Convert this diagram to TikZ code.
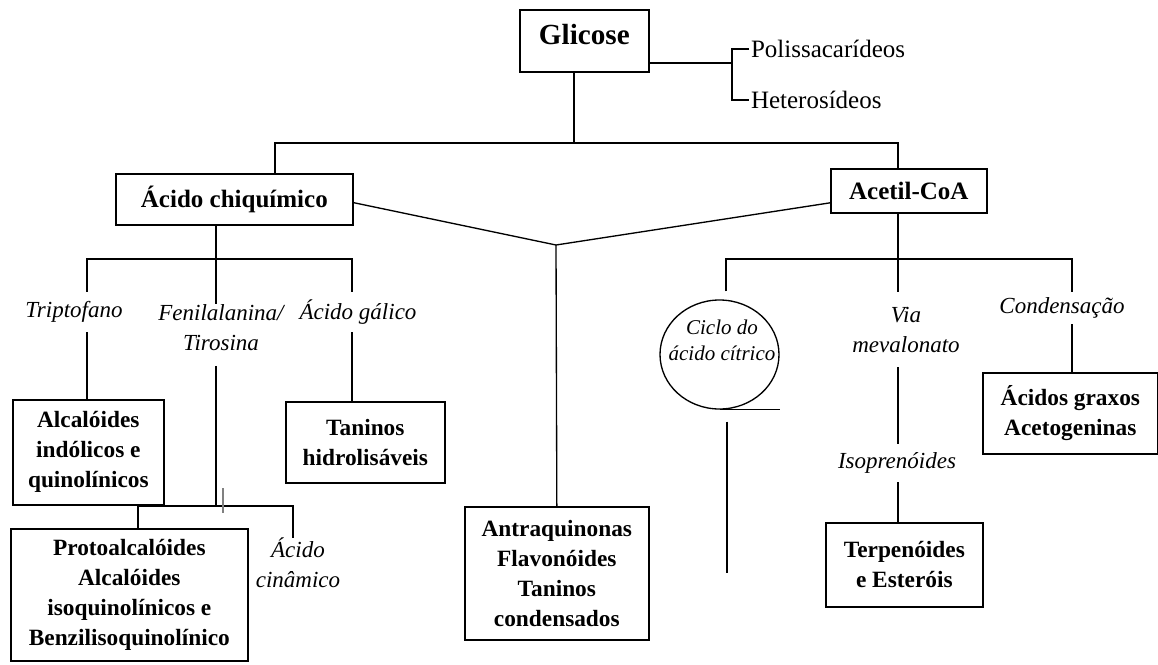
\documentclass[tikz,border=0pt]{standalone}
\usepackage{fontspec}
\setmainfont{Liberation Serif}
\usetikzlibrary{shapes.geometric}

\tikzset{
  caixa/.style={draw, line width=1pt, font=\bfseries\fontsize{14}{18}\selectfont,
    align=center, inner sep=0pt, anchor=north west},
  titulo/.style={font=\bfseries\fontsize{15}{18}\selectfont},
  rota/.style={font=\itshape\fontsize{13.8}{18}\selectfont, align=center, inner sep=0pt},
  ramo/.style={font=\fontsize{15}{18}\selectfont, inner sep=1pt, anchor=west},
  liga/.style={line width=0.8pt},
  marca/.style={gray, line width=0.8pt},
}

\begin{document}
\begin{tikzpicture}[x=0.6pt,y=-0.6pt]
\useasboundingbox (0,0) rectangle (1158,664);

% boxes:
\node[caixa, minimum width=77.4pt, minimum height=37.2pt, font=\bfseries\fontsize{17.5}{20}\selectfont,
  text height=12.5pt, text depth=8.4pt] (glicose) at (519,9) {Glicose};
\node[caixa, titulo, minimum width=142.2pt, minimum height=30.6pt] (chiq) at (115,173) {Ácido chiquímico};
\node[caixa, titulo, minimum width=93.6pt, minimum height=26.4pt] (acetil) at (830,168) {Acetil-CoA};
\node[caixa, minimum width=90.6pt, minimum height=63pt] (alcind) at (12,399) {Alcalóides\\indólicos e\\quinolínicos};
\node[caixa, minimum width=95.4pt, minimum height=48.6pt] (tanhid) at (285,401) {Taninos\\hidrolisáveis};
\node[caixa, minimum width=110.4pt, minimum height=79.8pt] (antra) at (464,506) {Antraquinonas\\Flavonóides\\Taninos\\condensados};
\node[caixa, minimum width=142.2pt, minimum height=79.2pt] (proto) at (10,528) {Protoalcalóides\\Alcalóides\\isoquinolínicos e\\Benzilisoquinolínico};
\node[caixa, minimum width=94.2pt, minimum height=50.4pt] (terp) at (825,522) {Terpenóides\\e Esteróis};
\node[caixa, minimum width=105pt, minimum height=48.6pt] (graxos) at (982,372) {Ácidos graxos\\Acetogeninas};

% labels:
\node[ramo] (polis) at (749,49) {Polissacarídeos};
\node[ramo] (hetero) at (749,100) {Heterosídeos};
\node[rota, minimum height=24pt] (tript) at (74,312) {Triptofano};
\node[rota] (feni) at (221,327.5) {Fenilalanina/\\Tirosina};
\node[rota, minimum height=24pt] (galico) at (358,312) {Ácido gálico};
\node[rota] (cinam) at (298,563) {Ácido\\cinâmico};
\node[rota, minimum height=45pt] (via) at (906,329.5) {Via\\mevalonato};
\node[rota, minimum height=19.2pt] (conden) at (1062,308) {Condensação};
\node[rota, minimum height=22.8pt] (isopr) at (897,463) {Isoprenóides};
\node[draw, ellipse, line width=0.8pt, minimum width=71.4pt, minimum height=65.4pt, inner sep=0pt] (ciclo) at (719.5,354.5) {};
\node[rota, font=\itshape\fontsize{12.6}{15.6}\selectfont] (ciclotxt) at (722,340) {Ciclo do\\ácido cítrico};

% glicose
\coordinate (jg) at (574,143);
\coordinate (jl) at (275,143);
\coordinate (jr) at (898,143);
\draw[liga] (glicose.south -| jg) -- (jg);
\draw[liga] (chiq.north -| jl) -- (jl) -- (jr) -- (acetil.north -| jr);
\coordinate (jb) at (732,63);
\draw[liga] (glicose.east |- jb) -- (jb);
\draw[liga] (polis.west) -- (polis.west -| jb) -- (hetero.west -| jb) -- (hetero.west);

% middle V
\coordinate (jv) at (556,245);
\draw[liga] ([yshift=-2pt]chiq.east) -- (jv) -- ([yshift=-7.2pt]acetil.west);
\draw[liga] (jv) -- (antra.north);

% acido chiquimico
\coordinate (jc) at (216,259);
\coordinate (jc1) at (87,259);
\coordinate (jc3) at (352,259);
\draw[liga] (chiq.south -| jc) -- (feni.north -| jc);
\draw[liga] (tript.north -| jc1) -- (jc1) -- (jc3) -- (galico.north -| jc3);
\draw[liga] (tript.south -| jc1) -- (alcind.north -| jc1);
\draw[liga] (galico.south -| jc3) -- (tanhid.north -| jc3);
\coordinate (fenib) at ([yshift=-9pt]feni.south);
\coordinate (jf) at (216,506);
\coordinate (jf1) at (138,506);
\coordinate (jf3) at (293,506);
\draw[liga] (fenib -| jf) -- (jf);
\draw[liga] (proto.north -| jf1) -- (jf1) -- (jf3) -- (cinam.north -| jf3);
\draw[marca] (223,488) -- (223,513);

% acetil-coa
\coordinate (ja) at (898,259);
\coordinate (ja1) at (726,259);
\coordinate (ja3) at (1072,259);
\coordinate (ciclotopo) at ([yshift=4.8pt]ciclo.north);
\draw[liga] (acetil.south -| ja) -- (via.north -| ja);
\draw[liga] (ciclotopo -| ja1) -- (ja1) -- (ja3) -- (conden.north -| ja3);
\draw[liga] (conden.south -| ja3) -- (graxos.north -| ja3);
\draw[liga] (via.south -| ja) -- (isopr.north -| ja);
\draw[liga] (isopr.south -| ja) -- (terp.north -| ja);
\draw[liga] (ciclo.south) -- ++(60,0);
\coordinate (cinicio) at ([yshift=-7.2pt]ciclo.south);
\coordinate (cfim) at (727,573);
\draw[liga] (cinicio -| cfim) -- (cfim);

\end{tikzpicture}
\end{document}
